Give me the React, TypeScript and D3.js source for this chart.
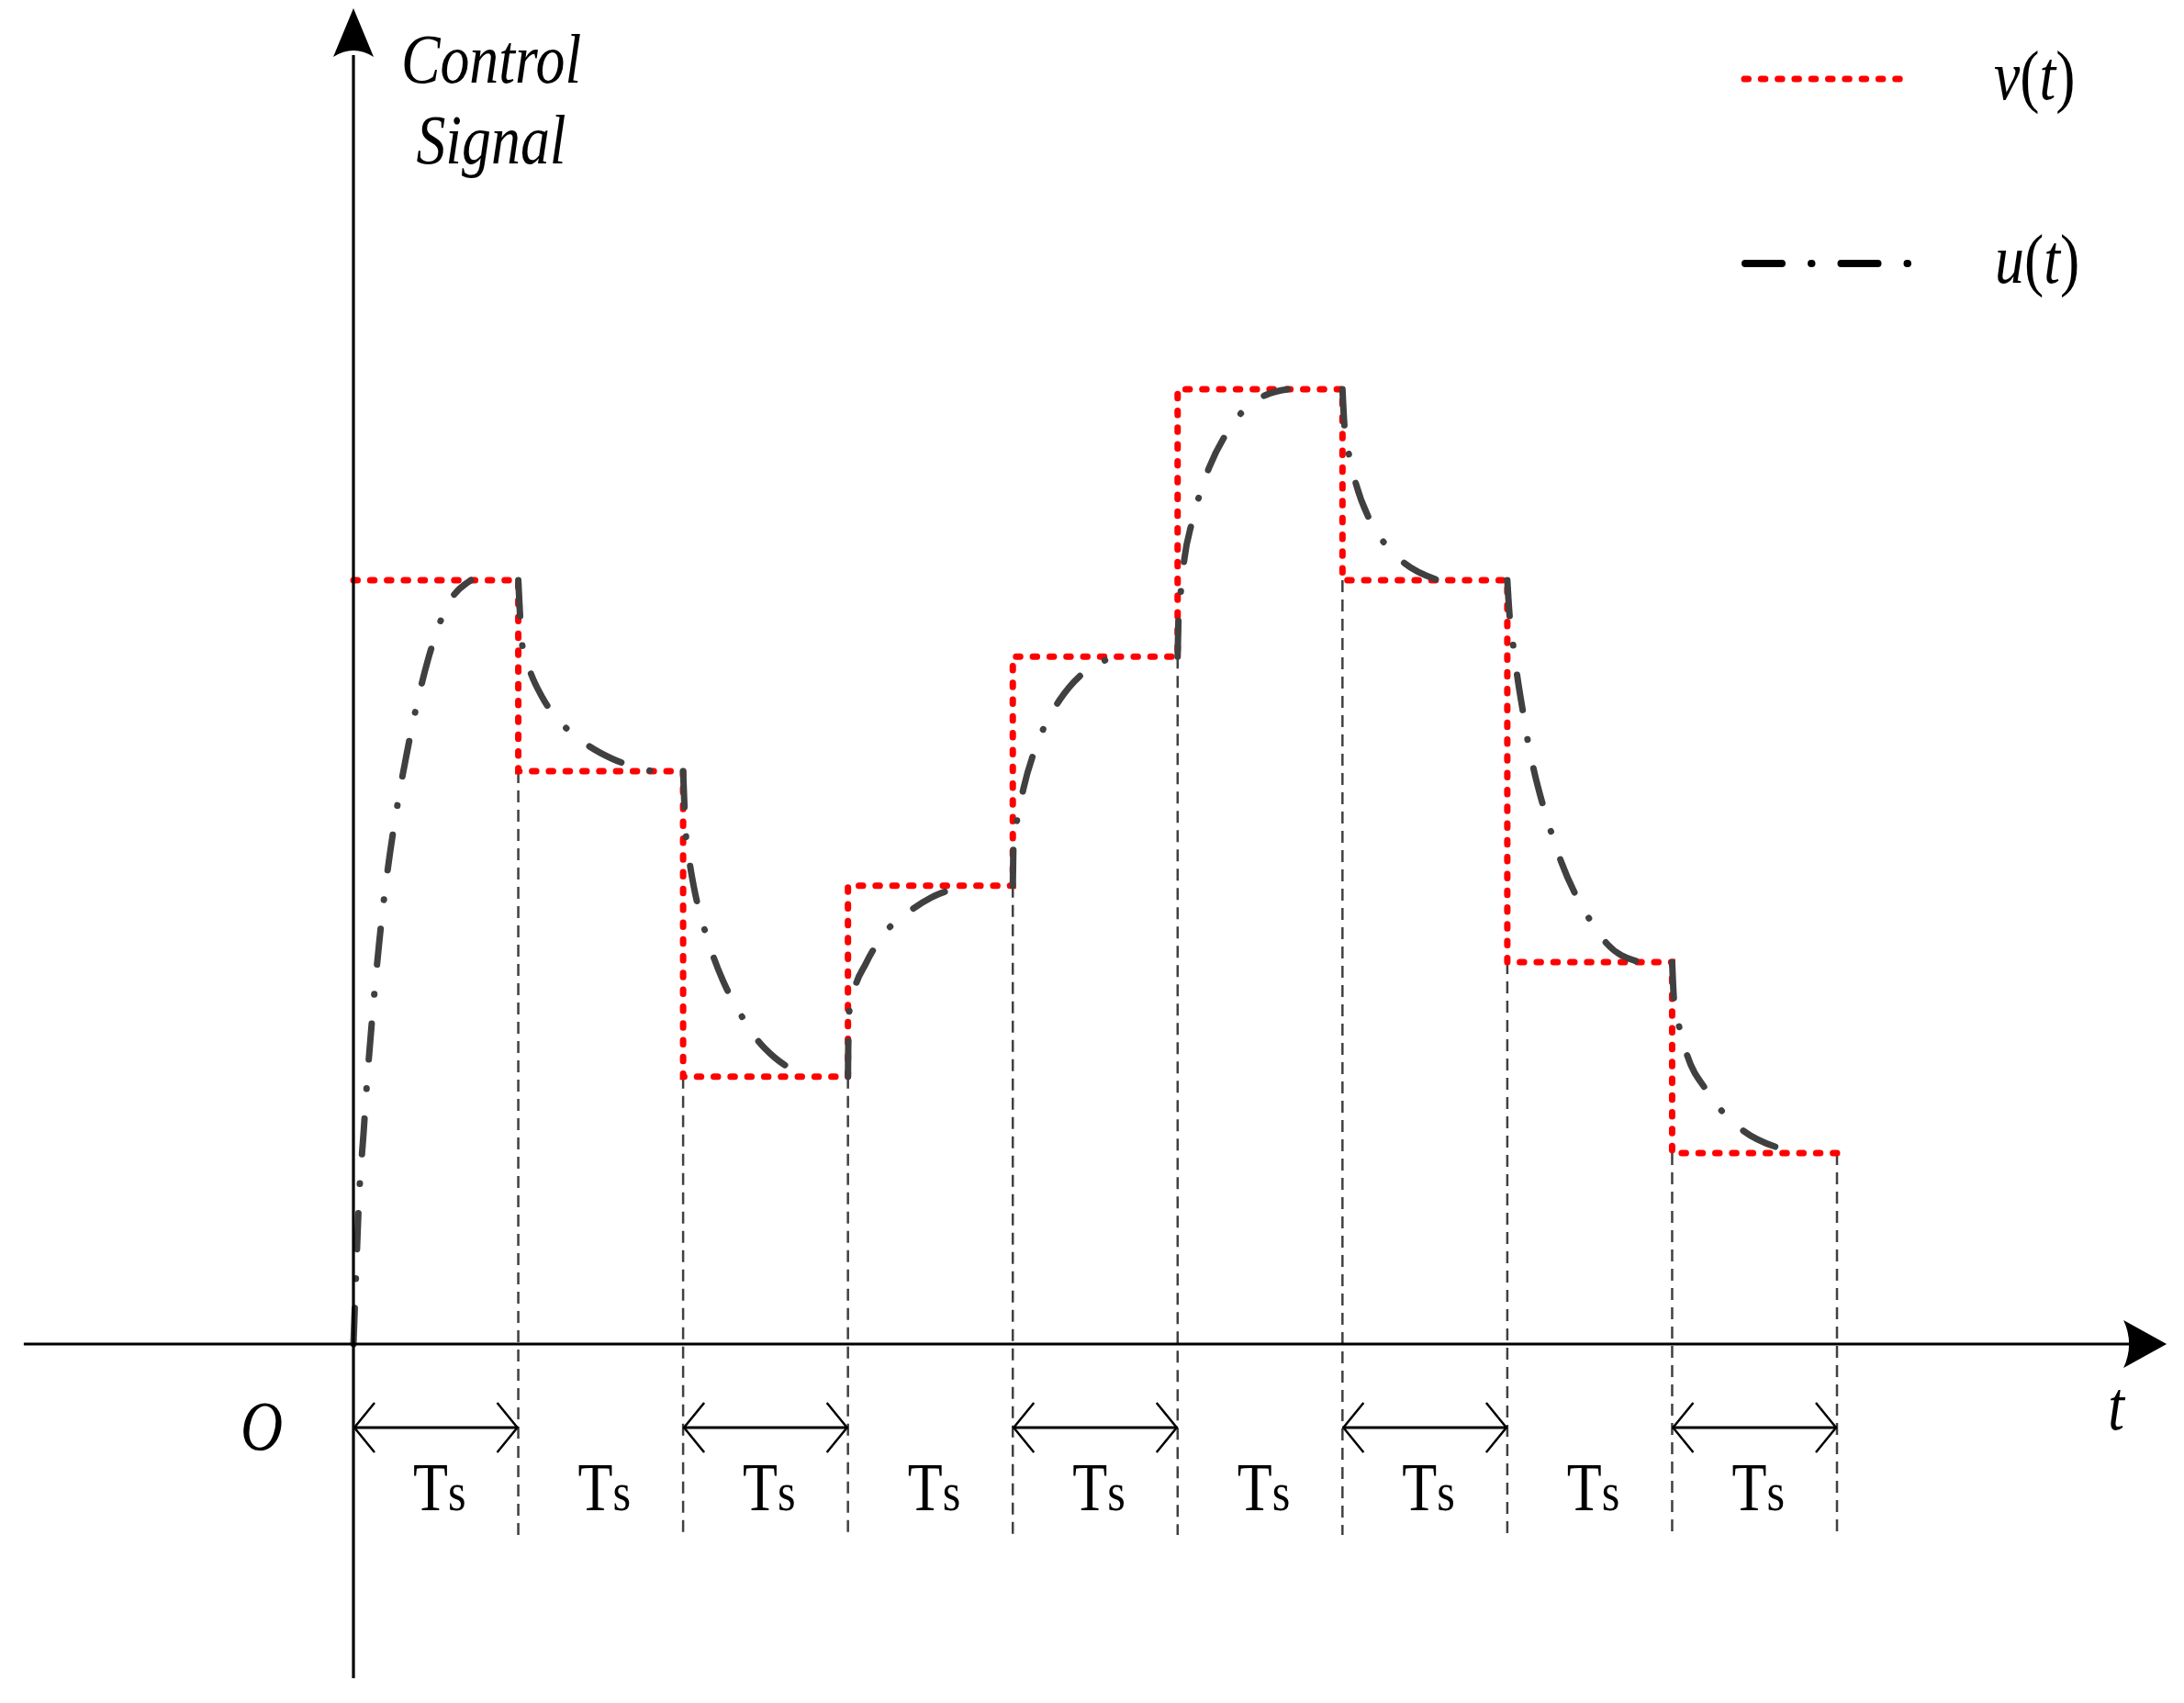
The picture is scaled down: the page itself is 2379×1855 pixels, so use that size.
import React, {useEffect, useRef} from 'react';
import * as d3 from 'd3';

// v(t): one held level per sampling period Ts
const periods = [0, 1, 2, 3, 4, 5, 6, 7, 8];
const vLevels = [8, 6, 2.8, 4.8, 7.2, 10, 8, 4, 2];

// u(t), one list per period (time in Ts, value in v units)
const uTime = [
    [0, 0.017, 0.033, 0.061, 0.084, 0.117, 0.156, 0.278, 0.323, 0.39, 0.451, 0.557, 0.713],
    [1, 1.025, 1.075, 1.147, 1.297, 1.431, 1.57, 1.81],
    [2, 2.016, 2.038, 2.066, 2.127, 2.177, 2.238, 2.35, 2.444, 2.556, 2.773],
    [3, 3.005, 3.04, 3.107, 3.24, 3.363, 3.508, 3.736],
    [4, 4.005, 4.031, 4.065, 4.131, 4.198, 4.282, 4.443, 4.588],
    [5, 5.006, 5.022, 5.039, 5.089, 5.134, 5.189, 5.301, 5.401, 5.535, 5.668],
    [6, 6.013, 6.041, 6.08, 6.169, 6.258, 6.375, 6.581],
    [7, 7.016, 7.038, 7.06, 7.099, 7.127, 7.16, 7.222, 7.272, 7.327, 7.422, 7.506, 7.606, 7.806],
    [8, 8.012, 8.046, 8.09, 8.207, 8.307, 8.435, 8.653]
];
const uValue = [
    [0, 0.78, 1.49, 2.2, 2.78, 3.48, 4.2, 5.76, 6.18, 6.74, 7.16, 7.69, 8.0],
    [8, 7.31, 7.03, 6.77, 6.44, 6.26, 6.13, 6.0],
    [6, 5.35, 5.06, 4.78, 4.36, 4.09, 3.82, 3.45, 3.2, 3.0, 2.8],
    [2.8, 3.44, 3.72, 3.98, 4.34, 4.52, 4.68, 4.8],
    [4.8, 5.26, 5.53, 5.82, 6.21, 6.49, 6.74, 7.05, 7.18],
    [7.2, 7.64, 7.92, 8.2, 8.62, 8.9, 9.17, 9.55, 9.78, 9.94, 10],
    [10, 9.59, 9.3, 9.02, 8.62, 8.38, 8.18, 8.0],
    [8, 7.58, 7.29, 7.0, 6.58, 6.29, 6.02, 5.61, 5.33, 5.05, 4.68, 4.43, 4.19, 4.0],
    [4, 3.59, 3.3, 3.03, 2.66, 2.43, 2.23, 2.05]
];

// periods that carry a double arrow under the axis
const arrowPeriods = [0, 2, 4, 6, 8];

const SERIF = '"Liberation Serif", "Times New Roman", serif';
const SQUEEZE = 0.84;

export default function App() {
    const svgRef = useRef<SVGSVGElement>(null);

    useEffect(() => {
        const svg = d3.select(svgRef.current);
        svg.selectAll('*').remove();

        const x = d3.scaleLinear().domain([0, 9]).range([385, 2001]);
        const y = d3.scaleLinear().domain([0, 10]).range([1464, 424]);

        const n = periods.length;

        // thin dashed verticals at every period boundary
        d3.range(1, n + 1).forEach(k => {
            const top = k < n ? Math.min(vLevels[k - 1], vLevels[k]) : vLevels[n - 1];
            svg.append('line')
                .attr('x1', x(k)).attr('x2', x(k))
                .attr('y1', y(top)).attr('y2', y(-2))
                .attr('stroke', '#404040')
                .attr('stroke-width', 2.5)
                .attr('stroke-dasharray', '13 8');
        });

        // v(t) red dotted staircase
        const stepPts: [number, number][] = periods.map(p => [p, vLevels[p]]);
        stepPts.push([n, vLevels[n - 1]]);
        const step = d3.line<[number, number]>()
            .x(d => x(d[0]))
            .y(d => y(d[1]))
            .curve(d3.curveStepAfter);
        svg.append('path')
            .attr('d', step(stepPts))
            .attr('fill', 'none')
            .attr('stroke', '#ff0000')
            .attr('stroke-width', 7)
            .attr('stroke-linecap', 'round')
            .attr('stroke-dasharray', '4.5 13.8');

        // u(t) dash-dot curve, one piece per period
        const curve = d3.line<[number, number]>()
            .x(d => x(d[0]))
            .y(d => y(d[1]))
            .curve(d3.curveMonotoneX);
        uTime.forEach((ts, i) => {
            const pts = ts.map((t, j) => [t, uValue[i][j]] as [number, number]);
            svg.append('path')
                .attr('d', curve(pts))
                .attr('fill', 'none')
                .attr('stroke', '#404040')
                .attr('stroke-width', 7)
                .attr('stroke-linecap', 'round')
                .attr('stroke-dasharray', '39 32 0.5 32');
        });

        // axes
        const ax = svg.append('g').attr('stroke', '#000').attr('stroke-width', 3.2);
        ax.append('line')
            .attr('x1', x(0)).attr('x2', x(0))
            .attr('y1', y(-3.5)).attr('y2', y(13.5));
        ax.append('line')
            .attr('x1', x(-2)).attr('x2', x(10.8))
            .attr('y1', y(0)).attr('y2', y(0));

        const yTipX = x(0), yTipY = y(13.99);
        svg.append('path')
            .attr('d', `M${yTipX},${yTipY} L${yTipX - 22},${yTipY + 53} Q${yTipX},${yTipY + 39} ${yTipX + 22},${yTipY + 53} Z`)
            .attr('fill', '#000');
        const xTipX = x(11), xTipY = y(0);
        svg.append('path')
            .attr('d', `M${xTipX},${xTipY} L${xTipX - 47},${xTipY - 26} Q${xTipX - 35},${xTipY} ${xTipX - 47},${xTipY + 26} Z`)
            .attr('fill', '#000');

        // double arrows marking Ts
        const arrowY = y(-0.875);
        arrowPeriods.forEach(p => {
            const x0 = x(p), x1 = x(p + 1);
            const g = svg.append('g')
                .attr('stroke', '#000')
                .attr('stroke-width', 2.5)
                .attr('fill', 'none');
            g.append('line').attr('x1', x0).attr('x2', x1).attr('y1', arrowY).attr('y2', arrowY).attr('stroke-width', 3);
            g.append('path').attr('d', `M${x0 + 23},${arrowY - 27} L${x0 + 1},${arrowY} L${x0 + 23},${arrowY + 27}`);
            g.append('path').attr('d', `M${x1 - 23},${arrowY - 27} L${x1 - 1},${arrowY} L${x1 - 23},${arrowY + 27}`);
        });

        // Ts labels
        periods.forEach(p => {
            const t = svg.append('text')
                .attr('transform', `translate(${x(p + 0.5) + 4},${y(-1.74)}) scale(${SQUEEZE},1)`)
                .attr('text-anchor', 'middle')
                .attr('font-family', SERIF)
                .attr('fill', '#000');
            t.append('tspan').attr('font-size', 74).text('T');
            t.append('tspan').attr('font-size', 60).text('s');
        });

        const label = (tx: number, ty: number, anchor: string) => svg.append('text')
            .attr('transform', `translate(${tx},${ty}) scale(${SQUEEZE},1)`)
            .attr('text-anchor', anchor)
            .attr('font-family', SERIF)
            .attr('font-size', 76)
            .attr('fill', '#000');

        label(535, 90, 'middle').attr('font-style', 'italic').text('Control');
        label(535, 178, 'middle').attr('font-style', 'italic').text('Signal');
        label(285, 1579, 'middle').attr('font-style', 'italic').text('O');
        label(2305, 1557, 'middle').attr('font-style', 'italic').text('t');

        // legend
        svg.append('line')
            .attr('x1', 1900).attr('x2', 2071).attr('y1', 86).attr('y2', 86)
            .attr('stroke', '#ff0000')
            .attr('stroke-width', 7)
            .attr('stroke-linecap', 'round')
            .attr('stroke-dasharray', '4.5 13.8');
        svg.append('line')
            .attr('x1', 1901).attr('x2', 2078).attr('y1', 287).attr('y2', 287)
            .attr('stroke', '#000')
            .attr('stroke-width', 8)
            .attr('stroke-linecap', 'round')
            .attr('stroke-dasharray', '40 32 0.5 32');

        [['v', 2172, 108], ['u', 2173, 308]].forEach(([sym, lx, ly]) => {
            const t = label(lx as number, ly as number, 'start');
            t.append('tspan').attr('font-style', 'italic').text(sym as string);
            t.append('tspan').text('(');
            t.append('tspan').attr('font-style', 'italic').text('t');
            t.append('tspan').text(')');
        });
    }, []);

    return (
        <svg
            ref={svgRef}
            width={2379}
            height={1855}
            style={{position: 'absolute', left: 0, top: 0, background: '#fff'}}
        />
    );
}
